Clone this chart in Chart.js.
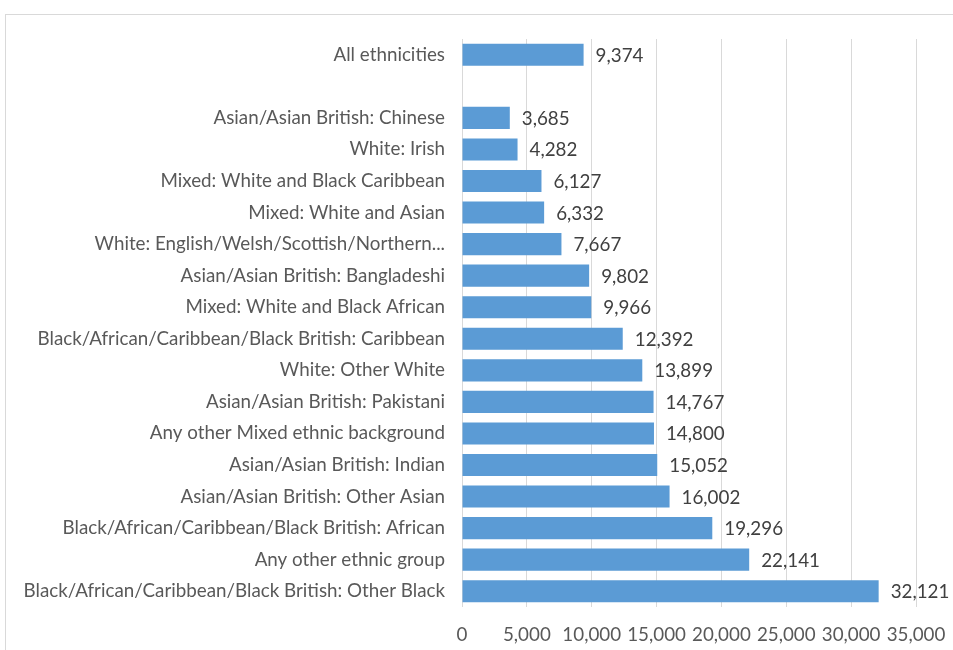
<!DOCTYPE html>
<html>
<head>
<meta charset="utf-8">
<script src="https://cdn.jsdelivr.net/npm/chart.js@4/dist/chart.umd.min.js"></script>
<style>
  html, body { margin: 0; padding: 0; background: #fff; overflow: hidden; }
  #frame {
    position: absolute; left: 5px; top: 14px;
    width: 1000px; height: 700px;
    border: 1px solid #d9d9d9;
  }
  #ethnicityChart { position: absolute; left: 0; top: 0; }
</style>
</head>
<body>
<div id="frame"></div>
<canvas id="ethnicityChart" width="953" height="650"></canvas>
<script>
// Categories top to bottom (blank row separates the overall figure)
const categories = [
  "All ethnicities",
  "",
  "Asian/Asian British: Chinese",
  "White: Irish",
  "Mixed: White and Black Caribbean",
  "Mixed: White and Asian",
  "White: English/Welsh/Scottish/Northern...",
  "Asian/Asian British: Bangladeshi",
  "Mixed: White and Black African",
  "Black/African/Caribbean/Black British: Caribbean",
  "White: Other White",
  "Asian/Asian British: Pakistani",
  "Any other Mixed ethnic background",
  "Asian/Asian British: Indian",
  "Asian/Asian British: Other Asian",
  "Black/African/Caribbean/Black British: African",
  "Any other ethnic group",
  "Black/African/Caribbean/Black British: Other Black"
];
const values = [
  9374, null, 3685, 4282, 6127, 6332, 7667, 9802, 9966,
  12392, 13899, 14767, 14800, 15052, 16002, 19296, 22141, 32121
];
const axisMax = 35000;
const axisStep = 5000;

const fontFamily = "Lato, 'Liberation Sans', sans-serif";
const fontSize = 18.8;

// draws the value just past the end of each bar
const valueLabels = {
  id: 'valueLabels',
  afterDatasetsDraw(chart) {
    const ctx = chart.ctx;
    const meta = chart.getDatasetMeta(0);
    ctx.save();
    ctx.font = fontSize + "px " + fontFamily;
    ctx.fillStyle = "#404040";
    ctx.textAlign = "left";
    ctx.textBaseline = "middle";
    meta.data.forEach(function(bar, i) {
      const v = values[i];
      if (v === null) return;
      ctx.fillText(v.toLocaleString('en-US'), bar.x + 12, bar.y + 1);
    });
    ctx.restore();
  }
};

const ctx = document.getElementById("ethnicityChart").getContext("2d");
new Chart(ctx, {
  type: "bar",
  data: {
    labels: categories,
    datasets: [{
      data: values,
      backgroundColor: "#5b9bd5",
      borderWidth: 0,
      categoryPercentage: 0.7,
      barPercentage: 1.0
    }]
  },
  options: {
    indexAxis: "y",
    responsive: false,
    animation: false,
    devicePixelRatio: 1,
    layout: { padding: { top: 39, right: 37, bottom: 0, left: 0 } },
    plugins: {
      legend: { display: false },
      tooltip: { enabled: false }
    },
    scales: {
      x: {
        min: 0,
        max: axisMax,
        ticks: {
          stepSize: axisStep,
          padding: 17,
          maxRotation: 0,
          minRotation: 0,
          autoSkip: false,
          color: "#595959",
          font: { family: fontFamily, size: fontSize },
          callback: v => v.toLocaleString('en-US')
        },
        grid: { color: "#d9d9d9", lineWidth: 1, drawTicks: false },
        border: { display: false },
        afterFit(scale) {
          scale.height = 43;
          scale.paddingRight = 0;
        }
      },
      y: {
        ticks: {
          padding: 17,
          color: "#595959",
          autoSkip: false,
          font: { family: fontFamily, size: fontSize }
        },
        grid: { display: false, drawTicks: false },
        border: { display: false },
        afterFit(scale) { scale.width = 462; }
      }
    }
  },
  plugins: [valueLabels]
});
</script>
</body>
</html>
